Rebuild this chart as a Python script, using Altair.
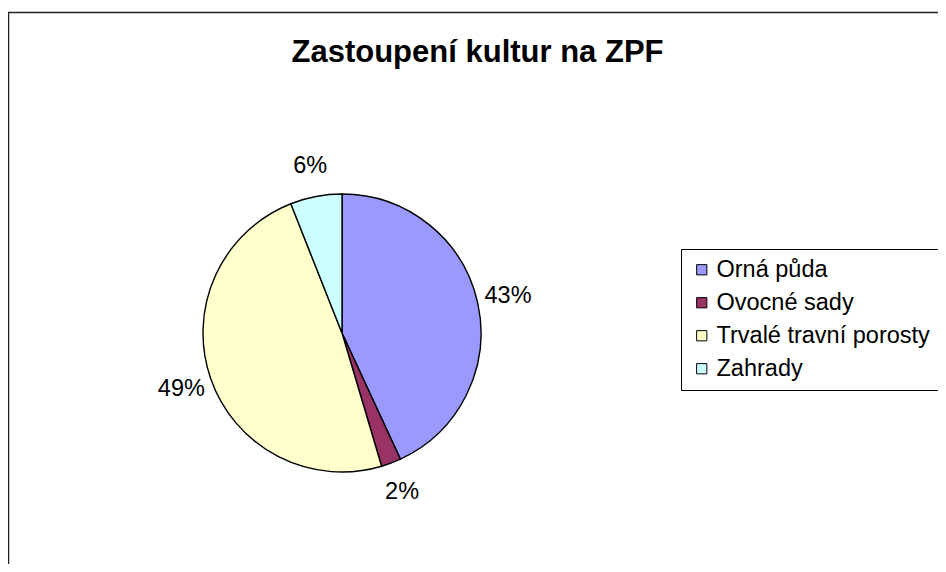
import altair as alt
import pandas as pd

categories = ["Orná půda", "Ovocné sady", "Trvalé travní porosty", "Zahrady"]
shares = [43.1, 2.3, 48.6, 6.0]
labels = ["43%", "2%", "49%", "6%"]
colors = ["#9999FF", "#993366", "#FFFFCC", "#CCFFFF"]
title_text = "Zastoupení kultur na ZPF"

df = pd.DataFrame({
    "kultura": categories,
    "podil": shares,
    "popis": labels,
    "poradi": list(range(len(categories))),
})

FONT = "Liberation Sans"

frame = alt.Chart(pd.DataFrame({"a": [0]})).mark_rect(
    fill="white", stroke="#222222", strokeWidth=1.5
).encode(
    x=alt.value(0.5), x2=alt.value(2000), y=alt.value(4.5), y2=alt.value(2000)
)

base = alt.Chart(df).encode(
    theta=alt.Theta("podil:Q", stack=True),
    order=alt.Order("poradi:Q"),
)

pie = base.mark_arc(radius=139, stroke="black", strokeWidth=1.4).encode(
    x=alt.value(334),
    y=alt.value(325),
    color=alt.Color(
        "kultura:N",
        scale=alt.Scale(domain=categories, range=colors),
        legend=alt.Legend(
            title=None,
            orient="none",
            legendX=673,
            legendY=241,
            symbolType="square",
            symbolSize=105,
            symbolStrokeColor="black",
            symbolStrokeWidth=1,
            labelFontSize=23.5,
            labelFont=FONT,
            labelColor="black",
            labelOffset=3,
            strokeColor="black",
            padding=9,
            rowPadding=8,
            labelLimit=400,
        ),
    ),
)

text = base.mark_text(radius=170, fontSize=23.5, font=FONT, color="black").encode(
    x=alt.value(334),
    y=alt.value(325),
    text="popis:N",
)

title = alt.Chart(pd.DataFrame({"t": [title_text]})).mark_text(
    fontSize=31, fontWeight="bold", font=FONT, color="black"
).encode(
    x=alt.value(469.5), y=alt.value(45), text="t:N"
)

chart = alt.layer(frame, pie, text, title).properties(
    width=930, height=556, autosize="none", padding=0
).configure_view(stroke=None)

chart.save("out.html", embed_options={"renderer": "svg", "actions": False})
